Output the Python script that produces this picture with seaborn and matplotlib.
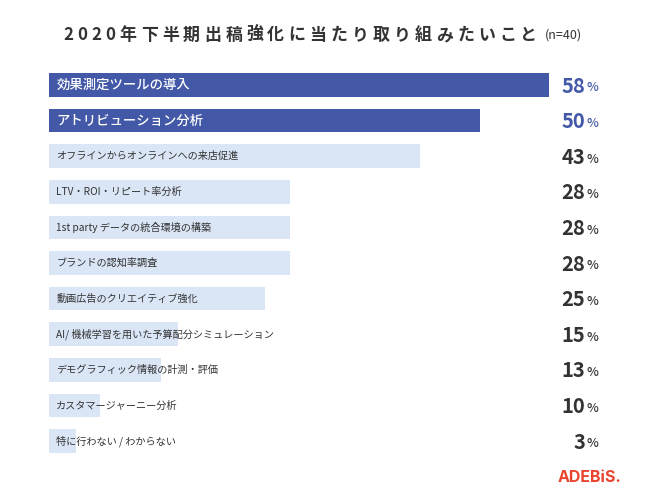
import matplotlib
matplotlib.use("Agg")
import matplotlib.pyplot as plt
import matplotlib.transforms as mtrans
import seaborn as sns
import pandas as pd

categories = [
    "効果測定ツールの導入",
    "アトリビューション分析",
    "オフラインからオンラインへの来店促進",
    "LTV・ROI・リピート率分析",
    "1st party データの統合環境の構築",
    "ブランドの認知率調査",
    "動画広告のクリエイティブ強化",
    "AI/ 機械学習を用いた予算配分シミュレーション",
    "デモグラフィック情報の計測・評価",
    "カスタマージャーニー分析",
    "特に行わない / わからない",
]
percent_labels = [58, 50, 43, 28, 28, 28, 25, 15, 13, 10, 3]
bar_lengths = [58, 50, 43, 28, 28, 28, 25, 15, 13, 5.9, 3.1]
highlighted = [True, True, False, False, False, False, False, False, False, False, False]

title_text = "2020年下半期出稿強化に当たり取り組みたいこと"
subtitle_text = "(n=40)"
logo_text = "ADEBiS."

DARK = "#4359A8"
LIGHT = "#DAE6F6"
TXT = "#333333"
FONT = ["Noto Sans CJK JP", "DejaVu Sans"]

sns.set_theme(style="white")
plt.rcParams["font.family"] = FONT

W, H = 650, 501
fig = plt.figure(figsize=(6.5, 5.01), dpi=100)
fig.patch.set_facecolor("white")

top_px, bottom_px = 67.2, 458.8
ax = fig.add_axes([49 / W, 1 - bottom_px / H, 500 / W, (bottom_px - top_px) / H])

df = pd.DataFrame({"cat": categories, "len": bar_lengths})
palette = {c: (DARK if h else LIGHT) for c, h in zip(categories, highlighted)}
sns.barplot(data=df, x="len", y="cat", hue="cat", palette=palette, legend=False,
            orient="h", width=0.66, saturation=1, linewidth=0, ax=ax)
ax.set_xlim(0, 58)
ax.set_ylim(len(categories) - 0.5, -0.5)
ax.axis("off")

for i, (c, h) in enumerate(zip(categories, highlighted)):
    ax.text(0.85, i, c, ha="left", va="center",
            color="white" if h else TXT,
            fontsize=9.6 if h else 7.3,
            fontweight="medium" if h else "normal")

tr = mtrans.blended_transform_factory(fig.transFigure, ax.transData)
for i, (v, h) in enumerate(zip(percent_labels, highlighted)):
    col = DARK if h else TXT
    ax.text(585.5 / W, i + 0.03, str(v), transform=tr, ha="right", va="center",
            fontsize=14.5, fontweight="bold", color=col)
    ax.text(586.5 / W, i + 0.08, "%", transform=tr, ha="left", va="center",
            fontsize=9, fontweight="medium", color=col)

# Title with letter spacing
renderer = fig.canvas.get_renderer()
x_px = 63.0
y_title = 1 - 35 / H
for ch in title_text:
    t = fig.text(x_px / W, y_title, ch, ha="left", va="center",
                 fontsize=12.2, fontweight="bold", color=TXT)
    bb = t.get_window_extent(renderer)
    x_px += bb.width + 4.2
fig.text(545 / W, y_title, subtitle_text, ha="left", va="center",
         fontsize=9, color=TXT)

fig.text(621 / W, 1 - 477 / H, logo_text, ha="right", va="center",
         fontsize=11.5, fontweight="bold", color="#E8442E",
         family=["Inter", "DejaVu Sans"])

fig.savefig("out.png", dpi=100, facecolor="white")
